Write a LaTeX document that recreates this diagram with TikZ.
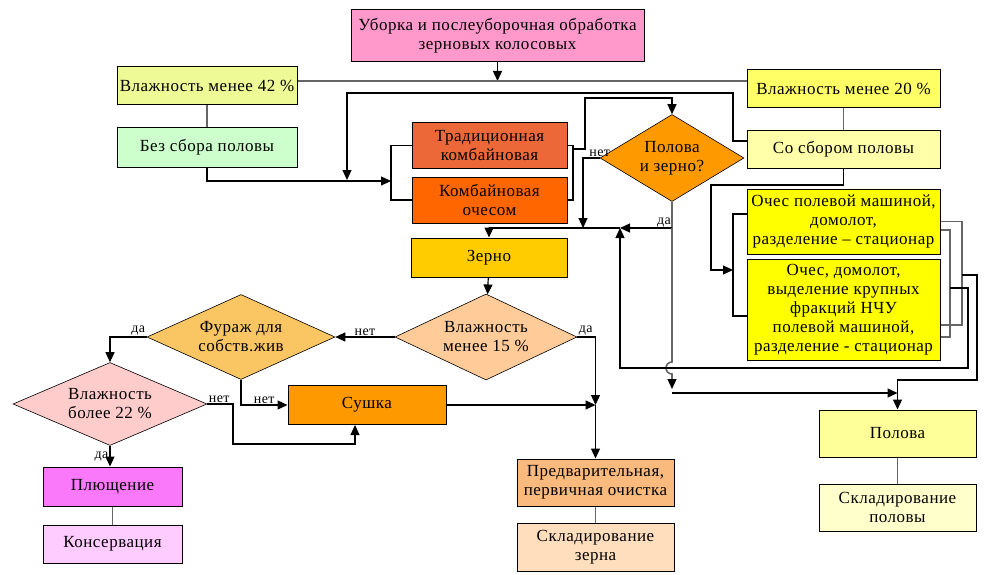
\documentclass[tikz,border=0pt]{standalone}
\usepackage{fontspec}
\setmainfont{Liberation Serif}
\newfontfamily\boxfont[LetterSpace=3]{Liberation Serif}
\usetikzlibrary{arrows.meta,shapes.geometric}

\definecolor{cTop}{RGB}{255,153,204}
\definecolor{cHum}{RGB}{238,250,150}
\definecolor{cNo}{RGB}{204,255,204}
\definecolor{cTrad}{RGB}{236,104,56}
\definecolor{cStrip}{RGB}{255,102,0}
\definecolor{cOr}{RGB}{255,153,0}
\definecolor{cYel}{RGB}{255,255,102}
\definecolor{cPale}{RGB}{255,255,170}
\definecolor{cBright}{RGB}{255,255,0}
\definecolor{cGold}{RGB}{255,204,0}
\definecolor{cPeach}{RGB}{255,204,153}
\definecolor{cFeed}{RGB}{250,198,100}
\definecolor{cRose}{RGB}{255,204,204}
\definecolor{cClean}{RGB}{250,185,125}
\definecolor{cStore}{RGB}{255,222,190}
\definecolor{cFlat}{RGB}{250,120,250}
\definecolor{cCons}{RGB}{255,204,255}
\definecolor{cChaff}{RGB}{255,255,153}
\definecolor{cChaffS}{RGB}{255,255,204}

\begin{document}
\begin{tikzpicture}[
  x=1pt,y=-1pt,
  box/.style={draw,line width=1pt,align=center,inner sep=1pt,font=\boxfont\fontsize{17}{19}\selectfont},
  choice/.style={diamond,draw,line width=.6pt,aspect=2,inner sep=0pt,align=center,font=\boxfont\fontsize{17}{19}\selectfont},
  flow/.style={line width=1.2pt,-{Triangle[length=10pt,width=9pt]}},
  link/.style={line width=1.6pt,black!60},
  brace/.style={line width=1.2pt},
  tag/.style={font=\boxfont\fontsize{14}{16}\selectfont,inner sep=1pt}
]
  \useasboundingbox (0,0) rectangle (993,575);

  % upper part
  \node[box,fill=cTop,minimum width=293pt,minimum height=52pt] (top) at (497.5,36) {Уборка и послеуборочная обработка\\зерновых колосовых};
  \node[box,fill=cHum,minimum width=180pt,minimum height=38pt] (vl42) at (207,86) {Влажность менее 42 \%};
  \node[box,fill=cNo,minimum width=180pt,minimum height=39pt] (bez) at (207,147.5) {Без сбора половы};
  \node[box,fill=cTrad,minimum width=155pt,minimum height=45pt] (trad) at (489.5,145.5) {Традиционная\\комбайновая};
  \node[box,fill=cStrip,minimum width=155pt,minimum height=46pt] (och) at (489.5,200) {Комбайновая\\очесом};
  \node[choice,fill=cOr,minimum width=144pt,minimum height=87pt] (polz) at (672,158) {Полова\\и зерно?};
  \node[box,fill=cYel,minimum width=193pt,minimum height=38pt] (vl20) at (843.5,89) {Влажность менее 20 \%};
  \node[box,fill=cPale,minimum width=193pt,minimum height=37pt] (sosb) at (843.5,149.5) {Со сбором половы};
  \node[box,fill=cBright,minimum width=193pt,minimum height=65pt] (ochpm) at (843.5,221.5) {Очес полевой машиной,\\домолот,\\разделение – стационар};
  \node[box,fill=cBright,minimum width=193pt,minimum height=101pt] (ochd) at (843.5,309.5) {Очес, домолот,\\выделение крупных\\фракций НЧУ\\полевой машиной,\\разделение - стационар};

  % lower part
  \node[box,fill=cGold,minimum width=156pt,minimum height=39pt] (zerno) at (489,257.5) {Зерно};
  \node[choice,fill=cPeach,minimum width=182pt,minimum height=86pt] (vl15) at (486,337) {Влажность\\менее 15 \%};
  \node[choice,fill=cFeed,minimum width=188pt,minimum height=85pt] (furazh) at (241,337) {Фураж для\\собств.жив};
  \node[choice,fill=cRose,minimum width=194pt,minimum height=83pt] (vl22) at (110,404) {Влажность\\более 22 \%};
  \node[box,fill=cOr,minimum width=158pt,minimum height=39pt] (sushka) at (367,405) {Сушка};
  \node[box,fill=cClean,minimum width=157pt,minimum height=47pt] (pred) at (595.5,482.5) {Предварительная,\\первичная очистка};
  \node[box,fill=cStore,minimum width=157pt,minimum height=48pt] (sklz) at (595.5,547) {Складирование\\зерна};
  \node[box,fill=cFlat,minimum width=139pt,minimum height=39pt] (plush) at (112.5,486.5) {Плющение};
  \node[box,fill=cCons,minimum width=139pt,minimum height=38pt] (kons) at (112.5,544) {Консервация};
  \node[box,fill=cChaff,minimum width=157pt,minimum height=47pt] (polova) at (897.5,433.5) {Полова};
  \node[box,fill=cChaffS,minimum width=157pt,minimum height=47pt] (sklp) at (897.5,507.5) {Складирование\\половы};

  % junctions
  \coordinate (j81) at (497.5,81);
  \coordinate (jl) at (391,181);
  \coordinate (jr) at (573,149);
  \coordinate (gr) at (620,228);
  \coordinate (jno) at (583,228);
  \coordinate (jb) at (733,270);
  \coordinate (ja) at (962,275);
  \coordinate (jg) at (950,288);
  \coordinate (jd) at (595.5,405);
  \coordinate (jp) at (672,393);

  \draw[flow] (top) -- (j81);
  \draw[link] (vl42.east |- j81) -- (vl20.west |- j81);
  \draw[link] (vl42) -- (bez);
  \draw[link] (vl20) -- (sosb);
  \draw[flow] ([yshift=8.5pt]sosb.west) -| (733,93) -| (347,180);
  \draw[flow] (bez.south) |- (jl);
  \draw[brace] (trad.west) -| (jl) |- (och.west);
  \draw[brace] (trad.east) -| (jr) |- (och.east);
  \draw[flow] (jr) -| (585,98) -| (polz.north);
  \draw[flow] (polz.west) -| (jno);
  \node[tag,above] at (polz.west) {нет};
  \draw[link] (polz.south) -- (polz.south |- gr);
  \node[tag,above left] at (polz.south |- gr) {да};
  \draw[flow] (polz.south |- gr) -- (gr);
  \draw[flow] (gr) -| (zerno.north);
  \draw[link] (polz.south |- gr) -- (672,362) arc[start angle=90,end angle=270,radius=6pt] -- (672,380);
  \draw[flow] (672,379) -- ([yshift=4pt]jp);
  \draw[flow] (jp) -- (polova.north |- jp);

  \draw[flow] (sosb.south) |- (711,185) |- (jb);
  \draw[brace] ([yshift=7.5pt]ochpm.west) -| (jb) |- ([yshift=-6.5pt]ochd.west);
  \draw[link] (ochpm.east) -| (ja) |- ([yshift=-15.5pt]ochd.east);
  \draw[link] ([yshift=-8.5pt]ochpm.east) -| (jg) |- ([yshift=-27.5pt]ochd.east);
  \draw[flow] (ja) -| (977,380) -| (polova.north);
  \draw[flow] (jg) -| (968,368) -| (gr);

  \draw[flow] (zerno) -- (vl15);
  \draw[flow] (vl15.east) -| node[tag,pos=0,above right]{да} (jd);
  \draw[flow] (jd) -- (pred);
  \draw[flow] (sushka) -- (jd);
  \draw[flow] (vl15) -- node[tag,above]{нет} (furazh);
  \draw[flow] (furazh.west) -| node[tag,pos=0,above left]{да} (vl22.north);
  \draw[flow] (furazh.south) |- node[tag,pos=.75,above]{нет} (sushka.west);
  \draw[flow] (vl22.east) -| node[tag,pos=0,above right]{нет} (233,444) -| ([xshift=-12pt]sushka.south);
  \draw[flow] (vl22.south) -- node[tag,left]{да} (vl22.south |- plush.north);
  \draw[link] (plush) -- (kons);
  \draw[link] (pred) -- (sklz);
  \draw[link] (polova) -- (sklp);
\end{tikzpicture}
\end{document}
